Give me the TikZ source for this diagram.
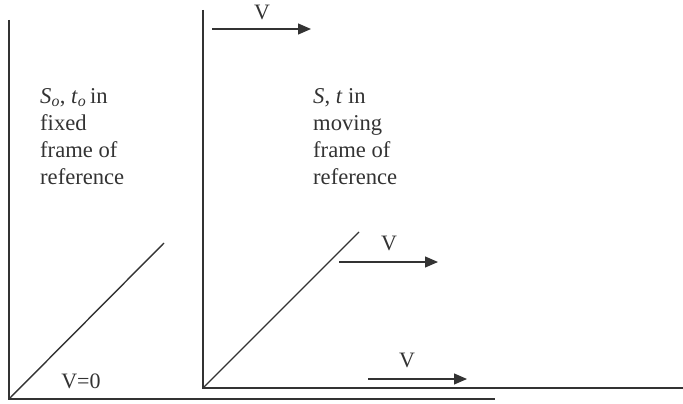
\documentclass[tikz,border=0pt]{standalone}
\usepackage{fontspec}
\setmainfont{Liberation Serif}
\usetikzlibrary{arrows.meta}
\definecolor{ink}{HTML}{333333}
\tikzset{
  axis/.style={draw=ink, line width=1.4pt},
  vel/.style={draw=ink, line width=1.2pt, -{Triangle[length=13pt,width=11pt]}},
  lbl/.style={font=\fontsize{22}{27}\selectfont, text=ink, inner sep=0pt},
  para/.style={font=\fontsize{22.6}{27}\selectfont, text=ink, inner sep=0pt, align=left, anchor=north west}
}
\begin{document}
\begin{tikzpicture}[x=1pt,y=-1pt]
\useasboundingbox (0,0) rectangle (683,404);
% fixed frame
\coordinate (fo) at (9,399);
\coordinate (ftop) at (9,20);
\coordinate (fright) at (495,399);
\coordinate (fdiag) at (164,243);
\draw[axis] (ftop) -- (fo) -- (fright);
\draw[axis] (fo) -- (fdiag);
% moving frame
\coordinate (mo) at (203,388);
\coordinate (mtop) at (203,10);
\coordinate (mright) at (683,388);
\coordinate (mdiag) at (359,232);
\draw[axis] (mtop) -- (mo) -- (mright);
\draw[axis] (mo) -- (mdiag);
% velocity arrows
\coordinate (a1s) at (212,29); \coordinate (a1e) at (311,29);
\coordinate (a2s) at (339,262); \coordinate (a2e) at (438,262);
\coordinate (a3s) at (368,379); \coordinate (a3e) at (467,379);
\draw[vel] (a1s) -- (a1e);
\draw[vel] (a2s) -- (a2e);
\draw[vel] (a3s) -- (a3e);
\node[lbl, anchor=base] (v1) at (262,20) {V};
\node[lbl, anchor=base] (v2) at (389,250) {V};
\node[lbl, anchor=base] (v3) at (407,367) {V};
\node[lbl, anchor=base] (v0) at (81,388) {V=0};
% descriptions
\node[para] (fixedtxt) at (40,88) {\textit{S}\textsubscript{\textit{o}}, \textit{t}\textsubscript{\textit{o}}\,in\\fixed\\frame of\\reference};
\node[para] (movingtxt) at (313,88) {\textit{S}, \textit{t} in\\moving\\frame of\\reference};
\end{tikzpicture}
\end{document}
